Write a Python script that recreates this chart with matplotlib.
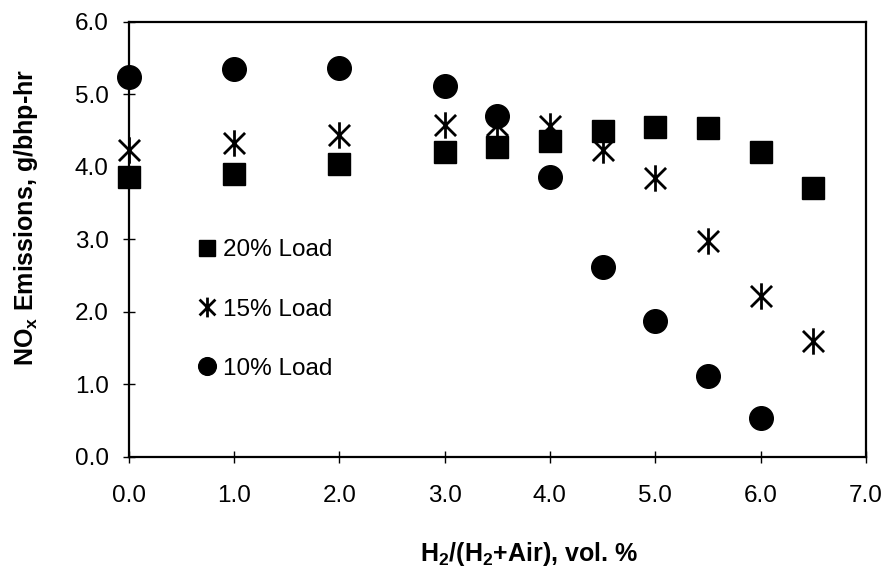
import numpy as np
import matplotlib
matplotlib.use('Agg')
import matplotlib.pyplot as plt
from matplotlib.path import Path

# ── Data ──
h2_frac = [0.0, 1.0, 2.0, 3.0, 3.5, 4.0, 4.5, 5.0, 5.5, 6.0, 6.5]
nox_20 = [3.86, 3.90, 4.04, 4.20, 4.27, 4.36, 4.50, 4.55, 4.53, 4.20, 3.71]
nox_15 = [4.23, 4.33, 4.44, 4.58, 4.58, 4.56, 4.23, 3.84, 2.98, 2.22, 1.60]
h2_frac_10 = [0.0, 1.0, 2.0, 3.0, 3.5, 4.0, 4.5, 5.0, 5.5, 6.0]
nox_10 = [5.24, 5.35, 5.36, 5.11, 4.70, 3.86, 2.62, 1.87, 1.12, 0.53]

x_ticks = [0, 1, 2, 3, 4, 5, 6, 7]
y_ticks = [0, 1, 2, 3, 4, 5, 6]

FS = 17.5

plt.rcParams.update({
    'font.family': ['Liberation Sans', 'DejaVu Sans'],
    'font.size': FS,
    'mathtext.fontset': 'custom',
    'mathtext.rm': 'Liberation Sans',
    'mathtext.bf': 'Liberation Sans:bold',
})

# Excel-style star: X plus vertical bar
star = Path([(0, -1), (0, 1), (-0.8, -0.8), (0.8, 0.8), (-0.8, 0.8), (0.8, -0.8)],
            [Path.MOVETO, Path.LINETO, Path.MOVETO, Path.LINETO, Path.MOVETO, Path.LINETO])

fig = plt.figure(figsize=(8.88, 5.74), dpi=100)
ax = fig.add_axes([0.145, 0.204, 0.830, 0.758])

ax.plot(h2_frac, nox_20, ls='none', marker='s', ms=15.5, color='black',
        label='20% Load', clip_on=False)
ax.plot(h2_frac, nox_15, ls='none', marker=star, ms=19, mew=2, color='black',
        mfc='none', label='15% Load', clip_on=False)
ax.plot(h2_frac_10, nox_10, ls='none', marker='o', ms=17, color='black',
        label='10% Load', clip_on=False)

ax.set_xlim(0, 7)
ax.set_ylim(0, 6)
ax.set_xticks(x_ticks)
ax.set_xticklabels([f'{v:.1f}' for v in x_ticks])
ax.set_yticks(y_ticks)
ax.set_yticklabels([f'{v:.1f}' for v in y_ticks])

for s in ax.spines.values():
    s.set_linewidth(1.6)
ax.tick_params(axis='both', direction='inout', length=9, width=1, labelsize=FS)
ax.tick_params(axis='x', pad=16)
ax.tick_params(axis='y', pad=10)

ax.set_xlabel(r'$\mathbf{H_2}$/($\mathbf{H_2}$+Air), vol. %', fontweight='bold', fontsize=18)
ax.xaxis.set_label_coords(0.543, -0.19)
ax.set_ylabel(r'$\mathbf{NO_x}$ Emissions, g/bhp-hr', fontweight='bold', fontsize=18)
ax.yaxis.set_label_coords(-0.12, 0.55)

ax.legend(loc='upper left', bbox_to_anchor=(0.078, 0.528), frameon=False,
          markerscale=0.75, handlelength=0.7, handletextpad=0.3,
          labelspacing=1.53, borderpad=0, fontsize=FS)

plt.savefig('out.png', dpi=100)
plt.close()
